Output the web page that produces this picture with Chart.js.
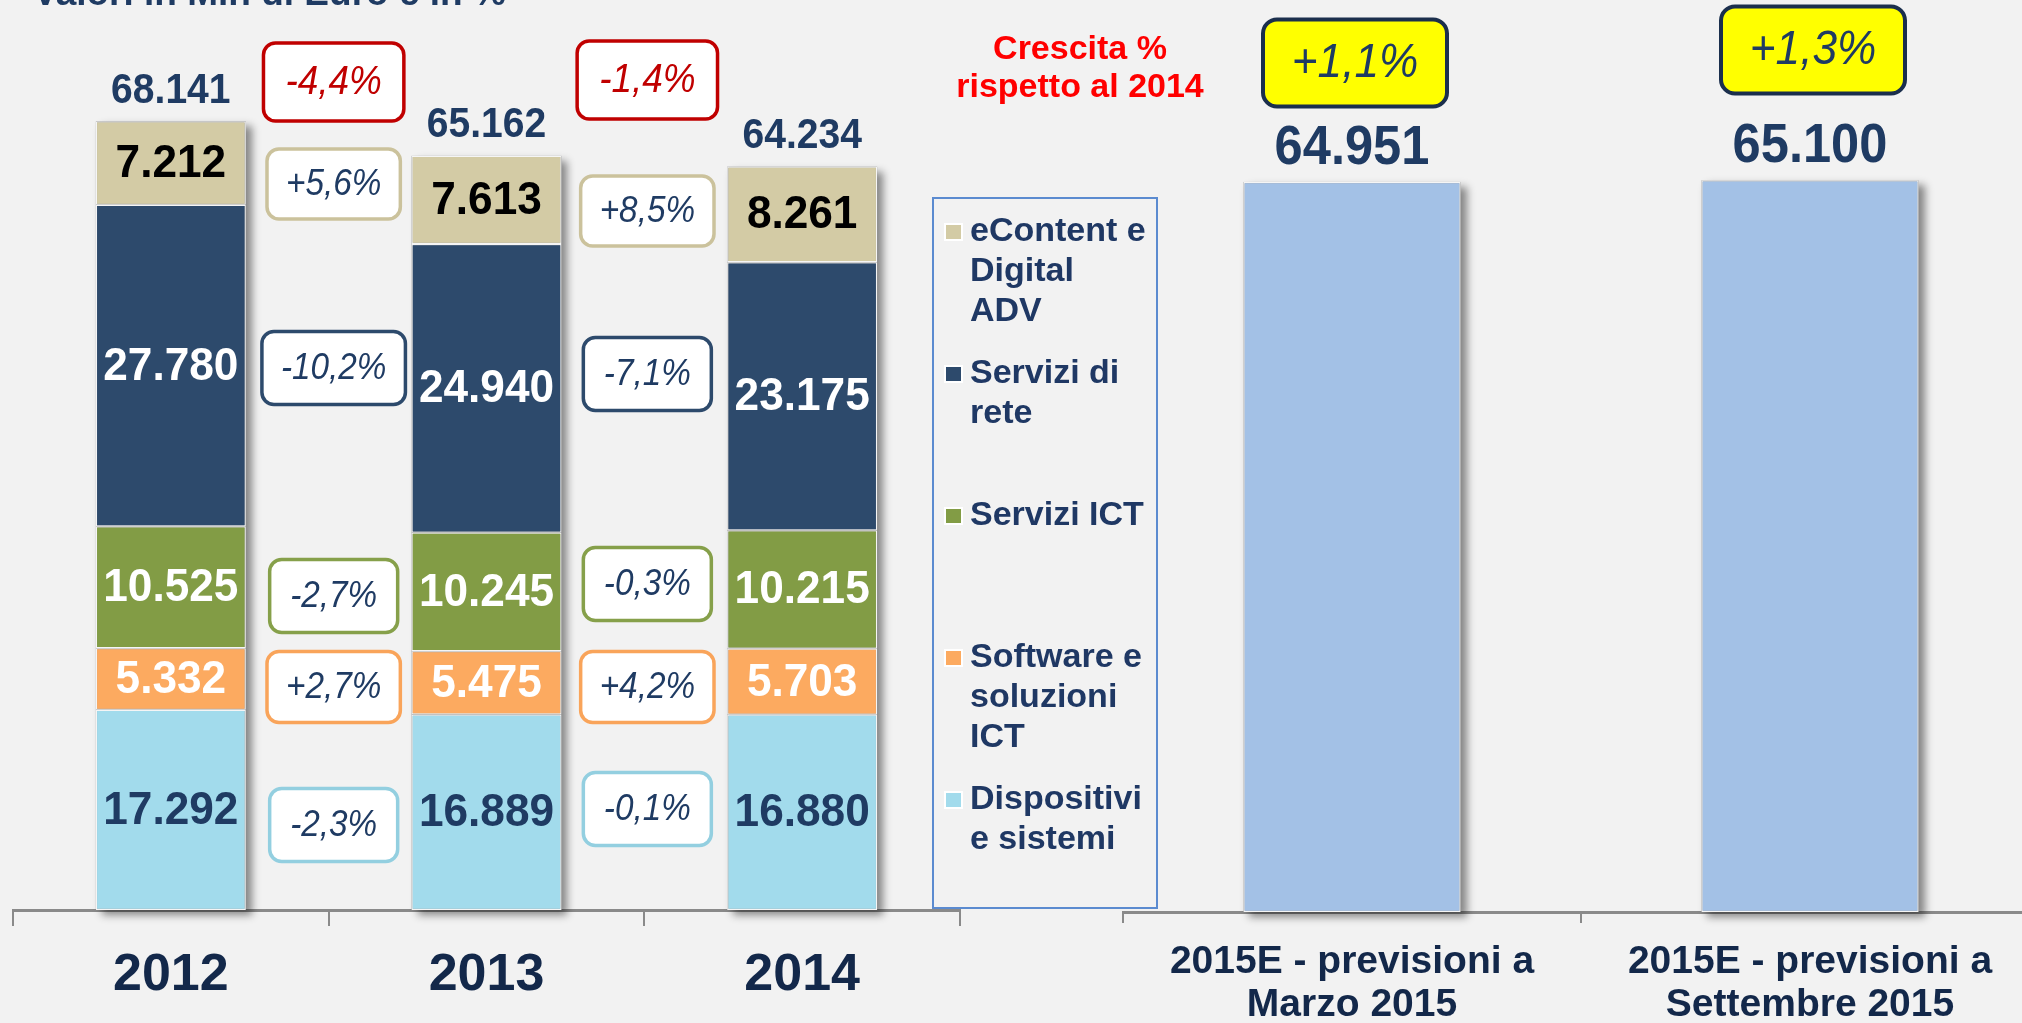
<!DOCTYPE html>
<html>
<head>
<meta charset="utf-8">
<script src="https://cdn.jsdelivr.net/npm/chart.js@4.4.1/dist/chart.umd.min.js"></script>
<style>
  html, body { margin: 0; padding: 0; background: #f2f2f2; overflow: hidden; width: 2022px; height: 1023px; }
  #left { position: absolute; left: 0; top: 0; }
  #right { position: absolute; left: 900px; top: 0; }
</style>
</head>
<body>
<canvas id="left" width="965" height="1023"></canvas>
<canvas id="right" width="1140" height="1023"></canvas>
<script>
/* =====================================================
   DATA
===================================================== */
const years = ["2012", "2013", "2014"];

const dispositivi = [17292, 16889, 16880];
const software = [5332, 5475, 5703];
const serviziIct = [10525, 10245, 10215];
const serviziRete = [27780, 24940, 23175];
const eContent = [7212, 7613, 8261];

const growthTotal = ["-4,4%", "-1,4%"];
const growthEContent = ["+5,6%", "+8,5%"];
const growthRete = ["-10,2%", "-7,1%"];
const growthIct = ["-2,7%", "-0,3%"];
const growthSoftware = ["+2,7%", "+4,2%"];
const growthDispositivi = ["-2,3%", "-0,1%"];

const forecastLabels = [
  ["2015E - previsioni a", "Marzo 2015"],
  ["2015E - previsioni a", "Settembre 2015"]
];
const forecastValues = [64951, 65100];
const forecastGrowth = ["+1,1%", "+1,3%"];

const legendLines = [
  ["eContent e", "Digital", "ADV"],
  ["Servizi di", "rete"],
  ["Servizi ICT"],
  ["Software e", "soluzioni", "ICT"],
  ["Dispositivi", "e sistemi"]
];

const FONT = '"Liberation Sans", Arial, sans-serif';
const NAVY = "#1f3b63";

const COLORS = {
  dispositivi: "#a2dbec",
  software: "#fcaa60",
  ict: "#829c45",
  rete: "#2d4a6c",
  econtent: "#d3cba5",
  forecast: "#a3c1e6"
};

const totals = years.map((_, i) =>
  dispositivi[i] + software[i] + serviziIct[i] + serviziRete[i] + eContent[i]);


/* =====================================================
   HELPERS
===================================================== */
function fmt(v) {
  return String(v).replace(/\B(?=(\d{3})+(?!\d))/g, ".");
}

function drawText(ctx, str, x, y, font, color, sx, align) {
  ctx.save();
  ctx.font = font;
  ctx.fillStyle = color;
  ctx.textAlign = align || "center";
  ctx.textBaseline = "middle";
  ctx.translate(x, y);
  ctx.scale(sx || 1, 1);
  ctx.fillText(str, 0, 0);
  ctx.restore();
}

function roundBox(ctx, cx, cy, w, h, r, fill, stroke, lw) {
  ctx.save();
  ctx.beginPath();
  ctx.roundRect(cx - w / 2, cy - h / 2, w, h, r);
  ctx.fillStyle = fill;
  ctx.fill();
  ctx.lineWidth = lw;
  ctx.strokeStyle = stroke;
  ctx.stroke();
  ctx.restore();
}

// grey drop shadow behind each whole stack
const barShadow = {
  id: "barShadow",
  beforeDatasetsDraw(chart) {
    const ctx = chart.ctx;
    const n = chart.data.datasets.length;
    const top = chart.getDatasetMeta(n - 1).data;
    ctx.save();
    ctx.shadowColor = "rgba(0,0,0,0.45)";
    ctx.shadowBlur = 8;
    ctx.shadowOffsetX = 6;
    ctx.shadowOffsetY = 5;
    ctx.fillStyle = "#9a9a9a";
    top.forEach((el, j) => {
      const base = chart.getDatasetMeta(0).data[j].base;
      ctx.fillRect(el.x - el.width / 2, el.y, el.width, base - el.y);
    });
    ctx.restore();
  }
};


/* =====================================================
   LEFT CHART: 2012 - 2014
===================================================== */
const boxRows = [
  { texts: growthTotal, y: [82, 80], border: "#c00000", color: "#c00000", size: 41, h: 78, pad: 44 },
  { texts: growthEContent, y: [184, 211], border: "#cbc29c", color: NAVY, size: 37, h: 70, pad: 38 },
  { texts: growthRete, y: [368, 374], border: "#2d4a6c", color: NAVY, size: 37, h: 73, pad: 38 },
  { texts: growthIct, y: [596, 584], border: "#86a04a", color: NAVY, size: 37, h: 73, pad: 38 },
  { texts: growthSoftware, y: [687, 687], border: "#f9a45a", color: NAVY, size: 37, h: 71, pad: 38 },
  { texts: growthDispositivi, y: [825, 809], border: "#93cfe0", color: NAVY, size: 37, h: 73, pad: 38 }
];
const BOX_SX = 0.9;

const segColors = [NAVY, "#ffffff", "#ffffff", "#ffffff", "#000000"];

const leftLabels = {
  id: "leftLabels",
  afterDatasetsDraw(chart) {
    const ctx = chart.ctx;
    const xs = chart.scales.x;

    // values inside the segments
    chart.data.datasets.forEach((ds, i) => {
      chart.getDatasetMeta(i).data.forEach((el, j) => {
        drawText(ctx, fmt(ds.data[j]), el.x, (el.y + el.base) / 2 + 1,
          "bold 47px " + FONT, segColors[i], 0.94);
      });
    });

    // totals above the stacks
    const topMeta = chart.getDatasetMeta(chart.data.datasets.length - 1);
    topMeta.data.forEach((el, j) => {
      drawText(ctx, fmt(totals[j]), el.x, el.y - 30, "bold 42px " + FONT, NAVY, 0.93);
    });

    // growth boxes between the years
    const colShift = [5, 3];
    for (let c = 0; c < 2; c++) {
      const cx = (xs.getPixelForValue(c) + xs.getPixelForValue(c + 1)) / 2 + colShift[c];
      boxRows.forEach(row => {
        const font = "italic " + row.size + "px " + FONT;
        ctx.save();
        ctx.font = font;
        const w = Math.max(128, ctx.measureText(row.texts[c]).width * BOX_SX + row.pad);
        ctx.restore();
        roundBox(ctx, cx, row.y[c], w, row.h, 12, "#ffffff", row.border, 3.5);
        drawText(ctx, row.texts[c], cx, row.y[c] + 1, font, row.color, BOX_SX);
      });
    }

    // title, mostly cut off at the top
    ctx.save();
    ctx.font = "bold 37px " + FONT;
    ctx.fillStyle = NAVY;
    ctx.textAlign = "left";
    ctx.textBaseline = "alphabetic";
    ctx.fillText("Valori in Mln di Euro e in %", 33, 5);
    ctx.restore();
  }
};

new Chart(document.getElementById("left"), {
  type: "bar",
  data: {
    labels: years,
    datasets: [
      { label: "Dispositivi e sistemi", data: dispositivi, backgroundColor: COLORS.dispositivi },
      { label: "Software e soluzioni ICT", data: software, backgroundColor: COLORS.software },
      { label: "Servizi ICT", data: serviziIct, backgroundColor: COLORS.ict },
      { label: "Servizi di rete", data: serviziRete, backgroundColor: COLORS.rete },
      { label: "eContent e Digital ADV", data: eContent, backgroundColor: COLORS.econtent }
    ].map(d => Object.assign(d, {
      borderColor: "rgba(255,255,255,0.9)",
      borderWidth: 1.2,
      borderSkipped: false,
      barPercentage: 0.475,
      categoryPercentage: 1,
      clip: false
    }))
  },
  options: {
    responsive: false,
    animation: false,
    devicePixelRatio: 1,
    layout: { padding: { left: 13, right: 5, top: 42, bottom: 0 } },
    plugins: { legend: { display: false }, tooltip: { enabled: false } },
    scales: {
      x: {
        stacked: true,
        grid: { drawOnChartArea: false, color: "#8a8a8a", lineWidth: 2, tickLength: 16, offset: true },
        border: { display: true, color: "#8a8a8a", width: 3 },
        ticks: { color: "#13284a", padding: 18, font: { family: FONT, size: 52, weight: "bold" } },
        afterFit: axis => { axis.height = 113; }
      },
      y: { stacked: true, display: false, min: 0, max: 75000 }
    }
  },
  plugins: [barShadow, leftLabels]
});


/* =====================================================
   RIGHT CHART: 2015 FORECASTS + LEGEND
===================================================== */
const OFFSET_X = 900; // page x of the right canvas
const yellowY = [63, 50];

const rightLabels = {
  id: "rightLabels",
  afterDatasetsDraw(chart) {
    const ctx = chart.ctx;
    const meta = chart.getDatasetMeta(0);

    meta.data.forEach((el, j) => {
      drawText(ctx, fmt(forecastValues[j]), el.x, el.y - 33, "bold 55px " + FONT, NAVY, 0.92);
      roundBox(ctx, el.x + 3, yellowY[j], 184, 87, 14, "#ffff00", "#1b2f4d", 4);
      drawText(ctx, forecastGrowth[j], el.x + 3, yellowY[j] + 1, "italic 48px " + FONT, NAVY, 0.92);
    });

    // "Crescita %" note
    drawText(ctx, "Crescita %", 1080 - OFFSET_X, 50, "bold 33px " + FONT, "#ff0000", 1.03);
    drawText(ctx, "rispetto al 2014", 1080 - OFFSET_X, 88, "bold 33px " + FONT, "#ff0000", 1.03);

    // legend box
    const lx = 933 - OFFSET_X;
    ctx.save();
    ctx.strokeStyle = "#5b8bd0";
    ctx.lineWidth = 2;
    ctx.strokeRect(lx, 198, 1157 - 933, 908 - 198);
    ctx.restore();

    const legendColors = [COLORS.econtent, COLORS.rete, COLORS.ict, COLORS.software, COLORS.dispositivi];
    legendLines.forEach((lines, i) => {
      const y0 = 232 + 142 * i;
      ctx.save();
      ctx.fillStyle = "#ffffff";
      ctx.fillRect(lx + 11, y0 - 9, 19, 18);
      ctx.fillStyle = legendColors[i];
      ctx.fillRect(lx + 13, y0 - 7, 15, 14);
      ctx.restore();
      lines.forEach((t, k) => {
        drawText(ctx, t, 970 - OFFSET_X, y0 + 40 * k, "bold 34px " + FONT, "#1f3864", 1.0, "left");
      });
    });
  }
};

new Chart(document.getElementById("right"), {
  type: "bar",
  data: {
    labels: forecastLabels,
    datasets: [{
      label: "Totale mercato",
      data: forecastValues,
      backgroundColor: COLORS.forecast,
      borderColor: "rgba(255,255,255,0.9)",
      borderWidth: 1.2,
      borderSkipped: false,
      barPercentage: 0.474,
      categoryPercentage: 1,
      clip: false
    }]
  },
  options: {
    responsive: false,
    animation: false,
    devicePixelRatio: 1,
    layout: { padding: { left: 223, right: 1, top: 69, bottom: 0 } },
    plugins: { legend: { display: false }, tooltip: { enabled: false } },
    scales: {
      x: {
        grid: { drawOnChartArea: false, color: "#8a8a8a", lineWidth: 2, tickLength: 11, offset: true },
        border: { display: true, color: "#8a8a8a", width: 3 },
        ticks: { color: "#13284a", padding: 17, font: { family: FONT, size: 39, weight: "bold", lineHeight: 1.12 } },
        afterFit: axis => { axis.height = 111; }
      },
      y: { display: false, min: 0, max: 75000 }
    }
  },
  plugins: [barShadow, rightLabels]
});
</script>
</body>
</html>
